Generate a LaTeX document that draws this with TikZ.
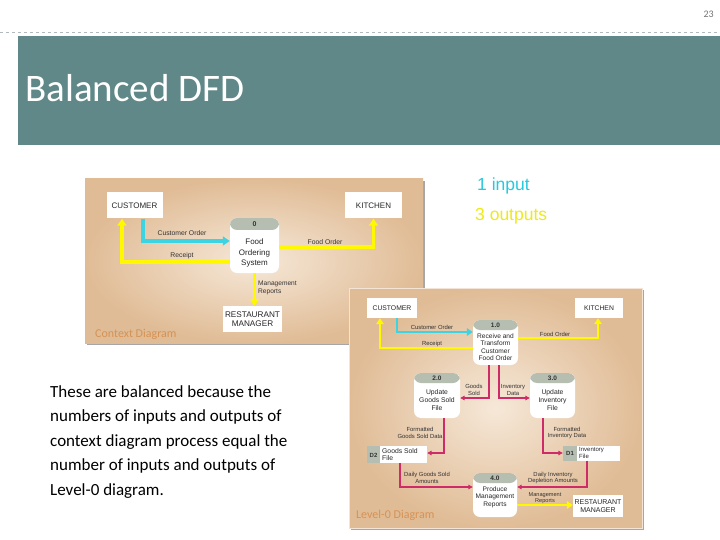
\documentclass[tikz,border=0pt]{standalone}
\usepackage{fontspec}
\setmainfont{Carlito}
\newfontfamily\lsans{Liberation Sans}
\usetikzlibrary{arrows.meta}
\definecolor{titlebar}{RGB}{96,136,136}
\definecolor{paneledge}{RGB}{224,188,150}
\definecolor{panelmid}{RGB}{246,232,216}
\definecolor{hdr}{RGB}{182,190,178}
\definecolor{flowcyan}{RGB}{60,212,226}
\definecolor{flowyellow}{RGB}{255,248,0}
\definecolor{flowpink}{RGB}{206,44,104}
\definecolor{ctxlabel}{RGB}{214,146,84}
\definecolor{dashgray}{RGB}{175,185,190}
\definecolor{inputcyan}{RGB}{40,200,222}
\definecolor{outputyellow}{RGB}{238,234,24}
\begin{document}
\begin{tikzpicture}[x=1pt,y=-1pt,
  ent/.style={fill=white,inner sep=0pt,align=center,text=black!85},
  procbox/.style={fill=white,rounded corners=7pt,inner sep=0pt,
    path picture={\fill[hdr] (path picture bounding box.north west) rectangle ([yshift=-#1]path picture bounding box.north east);}},
  pid/.style={inner sep=0pt,font=\lsans\bfseries\fontsize{6.5}{7}\selectfont,text=black!80},
  pname/.style={inner sep=0pt,align=center,text=black!85},
  flowlbl/.style={inner sep=0pt,align=center,text=black!80},
  store/.style={fill=white,inner sep=0pt,
    path picture={\fill[hdr] (path picture bounding box.north west) rectangle ([xshift=#1]path picture bounding box.south west);}},
  cyanflow/.style={draw=flowcyan,line width=3.6pt,-{Triangle[width=9pt,length=7pt]}},
  yellowflow/.style={draw=flowyellow,line width=3.6pt,-{Triangle[width=9pt,length=7pt]}},
  cyanflowb/.style={draw=flowcyan,line width=2.8pt,-{Triangle[width=7.5pt,length=6pt]}},
  yellowflowb/.style={draw=flowyellow,line width=2.8pt,-{Triangle[width=7.5pt,length=6pt]}},
  pinkflow/.style={draw=flowpink,line width=1.2pt,-{Triangle[width=4.5pt,length=4.5pt]}},
  panel/.style={inner color=panelmid,outer color=paneledge}
]
\useasboundingbox (0,0) rectangle (720,540);
\fill[white] (0,0) rectangle (720,540);
% header
\node[anchor=base east,inner sep=0pt,font=\fontsize{10}{10}\selectfont,text=black!55] (pnum) at (714,18) {23};
\coordinate (dl) at (0,32);
\coordinate (dr) at (720,32);
\draw[dashgray,dashed,line width=0.6pt] (dl) -- (dr);
\fill[titlebar] (18,36) rectangle (720,145);
\node[anchor=base west,inner sep=0pt,font=\fontsize{39}{39}\selectfont,text=white] (title) at (25,102) {Balanced DFD};
\node[anchor=base west,inner sep=0pt,font=\lsans\fontsize{17.5}{18}\selectfont,text=inputcyan] (inp) at (477,191) {1 input};
\node[anchor=base west,inner sep=0pt,font=\lsans\fontsize{17.5}{18}\selectfont,text=outputyellow] (outp) at (475,221) {3 outputs};

% ---------------- context diagram panel
\fill[black!35] (87,181) rectangle (425,345);
\shade[panel] (85,179) rectangle (423,343);
\node[ent,minimum width=56pt,minimum height=26pt,font=\lsans\fontsize{8}{9}\selectfont] (ccust) at (134.5,205.5) {CUSTOMER};
\node[ent,minimum width=57pt,minimum height=26pt,font=\lsans\fontsize{8}{9}\selectfont] (ckit) at (373.5,205.5) {KITCHEN};
\node[procbox=12pt,minimum width=49pt,minimum height=55pt] (cproc) at (254.5,245.5) {};
\node[pid,font=\lsans\bfseries\fontsize{7}{7}\selectfont] (cprocid) at (254.5,224) {0};
\node[pname,font=\lsans\fontsize{8}{10.5}\selectfont] (cprocname) at (254.5,253) {Food\\Ordering\\System};
\node[ent,minimum width=59pt,minimum height=26pt,font=\lsans\fontsize{8.2}{9.5}\selectfont] (cmgr) at (252.5,319) {RESTAURANT\\MANAGER};
\draw[cyanflow] ([xshift=8.5pt]ccust.south) |- ([yshift=4.5pt]cproc.west);
\draw[yellowflow] ([yshift=-16.5pt]cproc.west) -| ([xshift=-12.5pt]ccust.south);
\draw[yellowflow] ([yshift=-1.5pt]cproc.east) -| (ckit.south);
\draw[yellowflow] (cproc.south) -- (cproc.south |- cmgr.north);
\node[flowlbl,font=\lsans\fontsize{6.8}{7.5}\selectfont] (lco) at (182,233) {Customer Order};
\node[flowlbl,font=\lsans\fontsize{6.8}{7.5}\selectfont] (lrc) at (182,256) {Receipt};
\node[flowlbl,font=\lsans\fontsize{6.8}{7.5}\selectfont] (lfo) at (325,242) {Food Order};
\node[flowlbl,anchor=west,align=left,font=\lsans\fontsize{6.6}{7.5}\selectfont] (lmr) at (258,288) {Management\\Reports};
\node[anchor=base west,inner sep=0pt,font=\fontsize{12}{12}\selectfont,text=ctxlabel] (ctxl) at (95,337) {Context Diagram};

% ---------------- level-0 panel
\fill[black!35] (351,290) rectangle (644,530);
\shade[panel] (349,288) rectangle (642,528);
\draw[white!60!paneledge,line width=0.8pt] (349,288) rectangle (642,528);
\node[ent,minimum width=50pt,minimum height=20pt,font=\lsans\fontsize{6.8}{7.5}\selectfont] (lcust) at (392,308) {CUSTOMER};
\node[ent,minimum width=48pt,minimum height=20pt,font=\lsans\fontsize{6.8}{7.5}\selectfont] (lkit) at (599,308) {KITCHEN};
\node[procbox=10pt,minimum width=45pt,minimum height=45pt] (p1) at (495.5,342.5) {};
\node[pid] (p1id) at (495.5,325) {1.0};
\node[pname,font=\lsans\fontsize{6.6}{7.4}\selectfont] (p1name) at (495.5,347) {Receive and\\Transform\\Customer\\Food Order};
\node[procbox=10pt,minimum width=46pt,minimum height=45pt] (p2) at (437,395.5) {};
\node[pid] (p2id) at (437,378) {2.0};
\node[pname,font=\lsans\fontsize{6.8}{7.6}\selectfont] (p2name) at (437,400) {Update\\Goods Sold\\File};
\node[procbox=10pt,minimum width=45pt,minimum height=45pt] (p3) at (552.5,395.5) {};
\node[pid] (p3id) at (552.5,378) {3.0};
\node[pname,font=\lsans\fontsize{6.8}{7.6}\selectfont] (p3name) at (552.5,400) {Update\\Inventory\\File};
\node[store=13pt,minimum width=60pt,minimum height=16.5pt] (d2) at (397,454.5) {};
\node[pid,font=\lsans\bfseries\fontsize{6}{6}\selectfont] (d2id) at (373.5,455) {D2};
\node[pname,anchor=west,align=left,font=\lsans\fontsize{6.8}{7.8}\selectfont] (d2txt) at (382,454.5) {Goods Sold\\File};
\node[store=14pt,minimum width=57pt,minimum height=15pt] (d1) at (591.5,453) {};
\node[pid,font=\lsans\bfseries\fontsize{6}{6}\selectfont] (d1id) at (570,453.5) {D1};
\node[pname,anchor=west,align=left,font=\lsans\fontsize{6}{7.2}\selectfont] (d1txt) at (579,453) {Inventory\\File};
\node[procbox=10pt,minimum width=44pt,minimum height=44pt] (p4) at (495,495) {};
\node[pid] (p4id) at (495,478) {4.0};
\node[pname,font=\lsans\fontsize{6.6}{7.6}\selectfont] (p4name) at (495,497) {Produce\\Management\\Reports};
\node[ent,minimum width=50pt,minimum height=22pt,font=\lsans\fontsize{7}{8}\selectfont] (lmgr) at (598,506) {RESTAURANT\\MANAGER};

\draw[cyanflowb] ([xshift=5pt]lcust.south) |- ([yshift=10.5pt]p1.west);
\draw[yellowflowb] ([yshift=-5.5pt]p1.west) -| ([xshift=-12pt]lcust.south);
\draw[yellowflowb] ([yshift=4.5pt]p1.east) -| ([xshift=-1pt]lkit.south);
\draw[pinkflow] ([xshift=-6.5pt]p1.south) |- ([yshift=-2.5pt]p2.east);
\draw[pinkflow] ([xshift=3.5pt]p1.south) |- ([yshift=-2.5pt]p3.west);
\draw[pinkflow] ([xshift=7pt]p2.south) |- ([yshift=1.5pt]d2.east);
\draw[pinkflow] ([xshift=-9.5pt]p3.south) |- (d1.west);
\draw[pinkflow] ([xshift=3pt]d2.south) |- ([yshift=8pt]p4.west);
\draw[pinkflow] ([xshift=-4.5pt]d1.south) |- ([yshift=8pt]p4.east);
\draw[yellowflowb] ([yshift=-10pt]p4.east) -- ([yshift=-10pt]p4.east -| lmgr.west);

\node[flowlbl,font=\lsans\fontsize{5.9}{6.6}\selectfont] (l0co) at (432,327) {Customer Order};
\node[flowlbl,font=\lsans\fontsize{5.9}{6.6}\selectfont] (l0rc) at (432,344) {Receipt};
\node[flowlbl,font=\lsans\fontsize{5.9}{6.6}\selectfont] (l0fo) at (555,334) {Food Order};
\node[flowlbl,font=\lsans\fontsize{5.9}{6.6}\selectfont] (l0gs) at (474,390) {Goods\\Sold};
\node[flowlbl,font=\lsans\fontsize{5.9}{6.6}\selectfont] (l0id) at (513,390) {Inventory\\Data};
\node[flowlbl,font=\lsans\fontsize{5.9}{6.6}\selectfont] (l0fg) at (420,433) {Formatted\\Goods Sold Data};
\node[flowlbl,font=\lsans\fontsize{5.9}{6.6}\selectfont] (l0fi) at (567,433) {Formatted\\Inventory Data};
\node[flowlbl,font=\lsans\fontsize{5.9}{6.6}\selectfont] (l0dg) at (427,478) {Daily Goods Sold\\Amounts};
\node[flowlbl,font=\lsans\fontsize{5.9}{6.6}\selectfont] (l0di) at (553,478) {Daily Inventory\\Depletion Amounts};
\node[flowlbl,font=\lsans\fontsize{5.6}{6.3}\selectfont] (l0mr) at (545,498) {Management\\Reports};
\node[anchor=base west,inner sep=0pt,font=\fontsize{12}{12}\selectfont,text=ctxlabel] (l0l) at (356,518) {Level-0 Diagram};

% body text
\node[anchor=north west,align=left,inner sep=0pt,font=\fontsize{17}{24.4}\selectfont] (body) at (50,385.5) {These are balanced because the\\numbers of inputs and outputs of\\context diagram process equal the\\number of inputs and outputs of\\Level-0 diagram.};
\end{tikzpicture}
\end{document}
